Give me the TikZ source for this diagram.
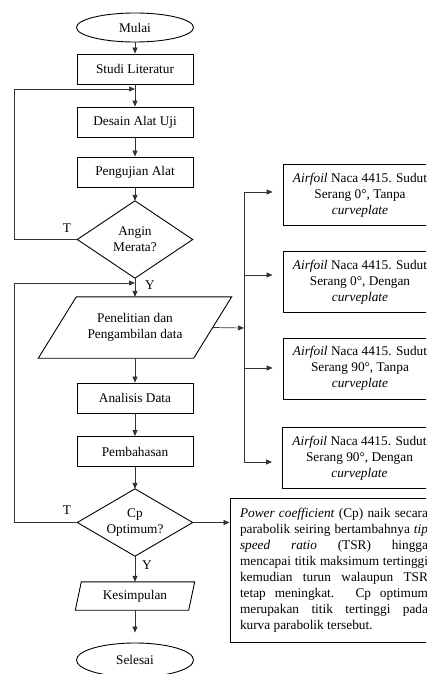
\documentclass[tikz,border=0pt]{standalone}
\usepackage{fontspec}
\setmainfont{Liberation Serif}
\usetikzlibrary{arrows.meta,shapes.geometric,calc}
\begin{document}
\begin{tikzpicture}[x=1pt,y=-1pt,
  every node/.style={font=\fontsize{13.3}{16}\selectfont, inner sep=0pt},
  box/.style={draw, line width=0.9pt, minimum width=116pt, minimum height=30pt},
  term/.style={draw, ellipse, line width=0.9pt, minimum width=117pt, minimum height=29pt},
  shapeline/.style={line width=0.9pt},
  conn/.style={line width=0.7pt, draw=black!80},
  arr/.style={conn, -{Triangle[length=6pt,width=5pt]}},
  side/.style={draw, line width=0.9pt, minimum width=154pt, minimum height=61pt, align=center},
  desc/.style={draw, line width=0.9pt, text width=188pt, inner xsep=10pt, minimum height=144pt, align=justify}
]
\useasboundingbox (0,0) rectangle (426,674);
\clip (0,0) rectangle (426,674);

% main column
\node[term] (mulai) at (135,27.5) {Mulai};
\node[box] (studi) at (135,69) {Studi Literatur};
\node[box] (desain) at (135,122) {Desain Alat Uji};
\node[box] (uji) at (135,172) {Pengujian Alat};
\node[minimum width=115pt, minimum height=77pt, align=center] (angin) at (135,239.5) {Angin\\Merata?};
\draw[shapeline] (angin.north) -- (angin.east) -- (angin.south) -- (angin.west) -- cycle;
\node[minimum width=155pt, minimum height=61pt, align=center] (pen) at (135,327.5) {Penelitian dan\\Pengambilan data};
\draw[shapeline] ([xshift=19pt]pen.north west) -- ([xshift=19pt]pen.north east) -- ([xshift=-19pt]pen.south east) -- ([xshift=-19pt]pen.south west) -- cycle;
\node[box] (anal) at (135,398) {Analisis Data};
\node[box] (bahas) at (135,451.5) {Pembahasan};
\node[minimum width=115pt, minimum height=67pt, align=center] (cp) at (135,522.5) {Cp\\Optimum?};
\draw[shapeline] (cp.north) -- (cp.east) -- (cp.south) -- (cp.west) -- cycle;
\node[minimum width=113pt, minimum height=28pt] (kes) at (135,596) {Kesimpulan};
\draw[shapeline] ([xshift=3pt]kes.north west) -- ([xshift=3pt]kes.north east) -- ([xshift=-3pt]kes.south east) -- ([xshift=-3pt]kes.south west) -- cycle;
\node[term, minimum height=34pt] (selesai) at (135,660) {Selesai};

% side boxes
\node[side] (b1) at (360,195) {\textit{Airfoil} Naca 4415. Sudut\\Serang 0°, Tanpa\\\textit{curveplate}};
\node[side] (b2) at (360,282) {\textit{Airfoil} Naca 4415. Sudut\\Serang 0°, Dengan\\\textit{curveplate}};
\node[side] (b3) at (360,368.5) {\textit{Airfoil} Naca 4415. Sudut\\Serang 90°, Tanpa\\\textit{curveplate}};
\node[side] (b4) at (359.5,458) {\textit{Airfoil} Naca 4415. Sudut\\Serang 90°, Dengan\\\textit{curveplate}};

\node[desc] (descr) at (334,570) {\textit{Power coefficient} (Cp) naik secara\linebreak parabolik seiring bertambahnya \textit{tip}\linebreak \textit{speed ratio} (TSR) hingga\linebreak mencapai titik maksimum tertinggi\linebreak kemudian turun walaupun TSR\linebreak tetap meningkat. Cp optimum\linebreak merupakan titik tertinggi pada\linebreak kurva parabolik tersebut.};

% labels
\node (tl1) at (67,228) {T};
\node (yl1) at (150,285) {Y};
\node (tl2) at (67,510) {T};
\node (yl2) at (147,565) {Y};

% helper coordinates
\coordinate (lx) at (14,0);
\coordinate (j1) at (135,89);
\coordinate (j2) at (135,283);
\coordinate (bus) at (244,328);
\coordinate (t1) at (244,192);
\coordinate (t2) at (244,275);
\coordinate (t3) at (244,368);
\coordinate (t4) at (244,462);

% connectors
\draw[arr] (mulai) -- (studi);
\draw[arr] (studi) -- (desain);
\draw[arr] (desain) -- (uji);
\draw[arr] (uji) -- (angin.north);
\draw[arr] (angin.west) -- (angin.west -| lx) |- (j1);
\draw[arr] (angin.south) -- (pen.north);
\draw[arr] (cp.west) -- (cp.west -| lx) |- (j2);
\draw[arr] (pen.south) -- (anal);
\draw[arr] (anal) -- (bahas);
\draw[arr] (bahas) -- (cp.north);
\draw[arr] (cp.south) -- (kes.north);
\draw[arr, shorten >=10pt] (kes.south) -- (selesai.north);
\draw[arr] (cp.east) -- (cp.east -| descr.west);
\draw[arr] (pen.east) -- (bus);
\draw[conn] (t1) -- (t4);
\draw[arr, shorten >=10pt] (t1) -- (t1 -| b1.west);
\draw[arr, shorten >=10pt] (t2) -- (t2 -| b2.west);
\draw[arr, shorten >=10pt] (t3) -- (t3 -| b3.west);
\draw[arr, shorten >=10pt] (t4) -- (t4 -| b4.west);
\end{tikzpicture}
\end{document}
